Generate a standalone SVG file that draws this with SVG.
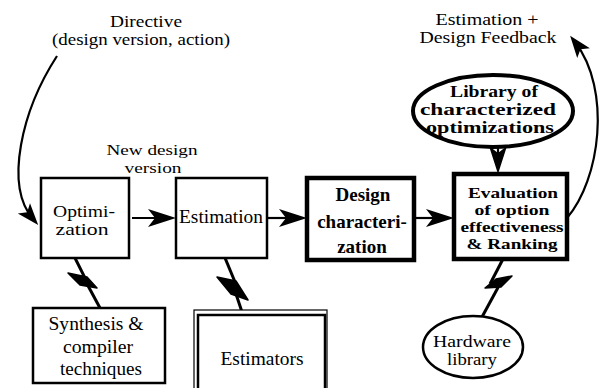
<svg xmlns="http://www.w3.org/2000/svg" width="607" height="388" viewBox="0 0 607 388">
<style>
text{font-family:"Liberation Serif","Times New Roman",serif;font-size:19px;fill:#000;text-anchor:middle}
.b{font-weight:bold}
.s17{font-size:17px}
.s16{font-size:16px}
.s15{font-size:15.5px}
.box{fill:#fff;stroke:#000;stroke-width:2.5}
.tbox{fill:#fff;stroke:#000;stroke-width:4.5}
.ln{fill:none;stroke:#000;stroke-width:2.2}
.bolt{fill:none;stroke:#000;stroke-width:3}
.wedge{fill:#000;stroke:#000;stroke-width:1.5;stroke-linejoin:round}
</style>
<defs>
<marker id="ah" markerUnits="userSpaceOnUse" viewBox="-20 -10 32 20" refX="0" refY="0" markerWidth="32" markerHeight="20" orient="auto">
<path d="M10,0 L-18,-9 L-11,0 L-18,9 Z" fill="#000"/>
</marker>
<marker id="ahs" markerUnits="userSpaceOnUse" viewBox="-16 -9 26 18" refX="0" refY="0" markerWidth="26" markerHeight="18" orient="auto">
<path d="M8,0 L-14,-8 L-9,0 L-14,8 Z" fill="#000"/>
</marker>
</defs>

<g id="connectors">
<path class="ln" d="M57,56 C22,110 4,185 33,219" marker-end="url(#ahs)"/>
<path class="ln" d="M567,218 C600,180 612,90 575,42" marker-end="url(#ahs)"/>
<path class="ln" d="M132,218 L166,218" marker-end="url(#ah)"/>
<path class="ln" d="M267,218 L297,218" marker-end="url(#ah)"/>
<path class="ln" d="M415,218 L444,218" marker-end="url(#ah)"/>
<path class="ln" d="M498,147 L498,164" marker-end="url(#ah)"/>
<g id="bolt1">
<path class="bolt" d="M75,258 L86,280"/>
<polygon class="wedge" points="68,273 87,277 97,288 80,285"/>
<path class="bolt" d="M86,282 L100,308"/>
</g>
<g id="bolt2">
<path class="bolt" d="M223,253 L235,282"/>
<polygon class="wedge" points="217,277 236,281 248,300 231,294"/>
<path class="bolt" d="M234,288 L242,312"/>
</g>
<g id="bolt3">
<path class="bolt" d="M503,259 L490,284"/>
<polygon class="wedge" points="485,288 496,279 512,276 501,287"/>
<path class="bolt" d="M501,282 L482,317"/>
</g>
</g>

<g id="directive">
<text class="s17" x="146" y="27" textLength="72" lengthAdjust="spacingAndGlyphs">Directive</text>
<text class="s17" x="141" y="45" textLength="178" lengthAdjust="spacingAndGlyphs">(design version, action)</text>
</g>
<g id="newdesign">
<text class="s15" x="152" y="155" textLength="91" lengthAdjust="spacingAndGlyphs">New design</text>
<text class="s15" x="153" y="173" textLength="57" lengthAdjust="spacingAndGlyphs">version</text>
</g>
<g id="feedback">
<text class="s17" x="487" y="25" textLength="103" lengthAdjust="spacingAndGlyphs">Estimation +</text>
<text class="s17" x="488" y="43" textLength="137" lengthAdjust="spacingAndGlyphs">Design Feedback</text>
</g>

<g id="optimization">
<rect class="box" x="41" y="178" width="88" height="80"/>
<text class="s17" x="84" y="217" textLength="62" lengthAdjust="spacingAndGlyphs">Optimi-</text>
<text class="s17" x="82" y="235" textLength="53" lengthAdjust="spacingAndGlyphs">zation</text>
</g>
<g id="estimation">
<rect class="box" x="176" y="178" width="91" height="80"/>
<text x="221" y="223" textLength="84" lengthAdjust="spacingAndGlyphs">Estimation</text>
</g>
<g id="designchar">
<rect class="tbox" x="307" y="178" width="107" height="82"/>
<text class="b" x="363" y="201">Design</text>
<text class="b" x="362" y="228">characteri-</text>
<text class="b" x="362" y="253">zation</text>
</g>
<g id="evaluation">
<rect class="tbox" x="454" y="174" width="113" height="85"/>
<text class="b s15" x="513" y="198" textLength="90" lengthAdjust="spacingAndGlyphs">Evaluation</text>
<text class="b s15" x="512" y="215" textLength="75" lengthAdjust="spacingAndGlyphs">of option</text>
<text class="b s15" x="512" y="232" textLength="103" lengthAdjust="spacingAndGlyphs">effectiveness</text>
<text class="b s15" x="512" y="249" textLength="91" lengthAdjust="spacingAndGlyphs">&amp; Ranking</text>
</g>
<g id="library">
<ellipse cx="493" cy="111" rx="80" ry="36" fill="#fff" stroke="#000" stroke-width="4"/>
<text class="b s16" x="494" y="97" textLength="88" lengthAdjust="spacingAndGlyphs">Library of</text>
<text class="b s16" x="488" y="115" textLength="136" lengthAdjust="spacingAndGlyphs">characterized</text>
<text class="b s16" x="490" y="133" textLength="128" lengthAdjust="spacingAndGlyphs">optimizations</text>
</g>
<g id="synthesis">
<rect class="box" x="33" y="308" width="132" height="75"/>
<text x="96" y="330" textLength="95" lengthAdjust="spacingAndGlyphs">Synthesis &amp;</text>
<text x="98" y="353" textLength="70" lengthAdjust="spacingAndGlyphs">compiler</text>
<text x="101" y="375" textLength="82" lengthAdjust="spacingAndGlyphs">techniques</text>
</g>
<g id="estimators">
<rect x="194" y="310" width="133" height="90" fill="#fff" stroke="#000" stroke-width="1.2"/>
<rect class="box" x="198" y="315" width="127" height="85"/>
<text x="262" y="365" textLength="83" lengthAdjust="spacingAndGlyphs">Estimators</text>
</g>
<g id="hardware">
<ellipse cx="473" cy="347" rx="50" ry="31" fill="#fff" stroke="#000" stroke-width="2.5"/>
<text class="s17" x="472" y="347" textLength="78" lengthAdjust="spacingAndGlyphs">Hardware</text>
<text class="s17" x="472" y="365" textLength="50" lengthAdjust="spacingAndGlyphs">library</text>
</g>
</svg>
